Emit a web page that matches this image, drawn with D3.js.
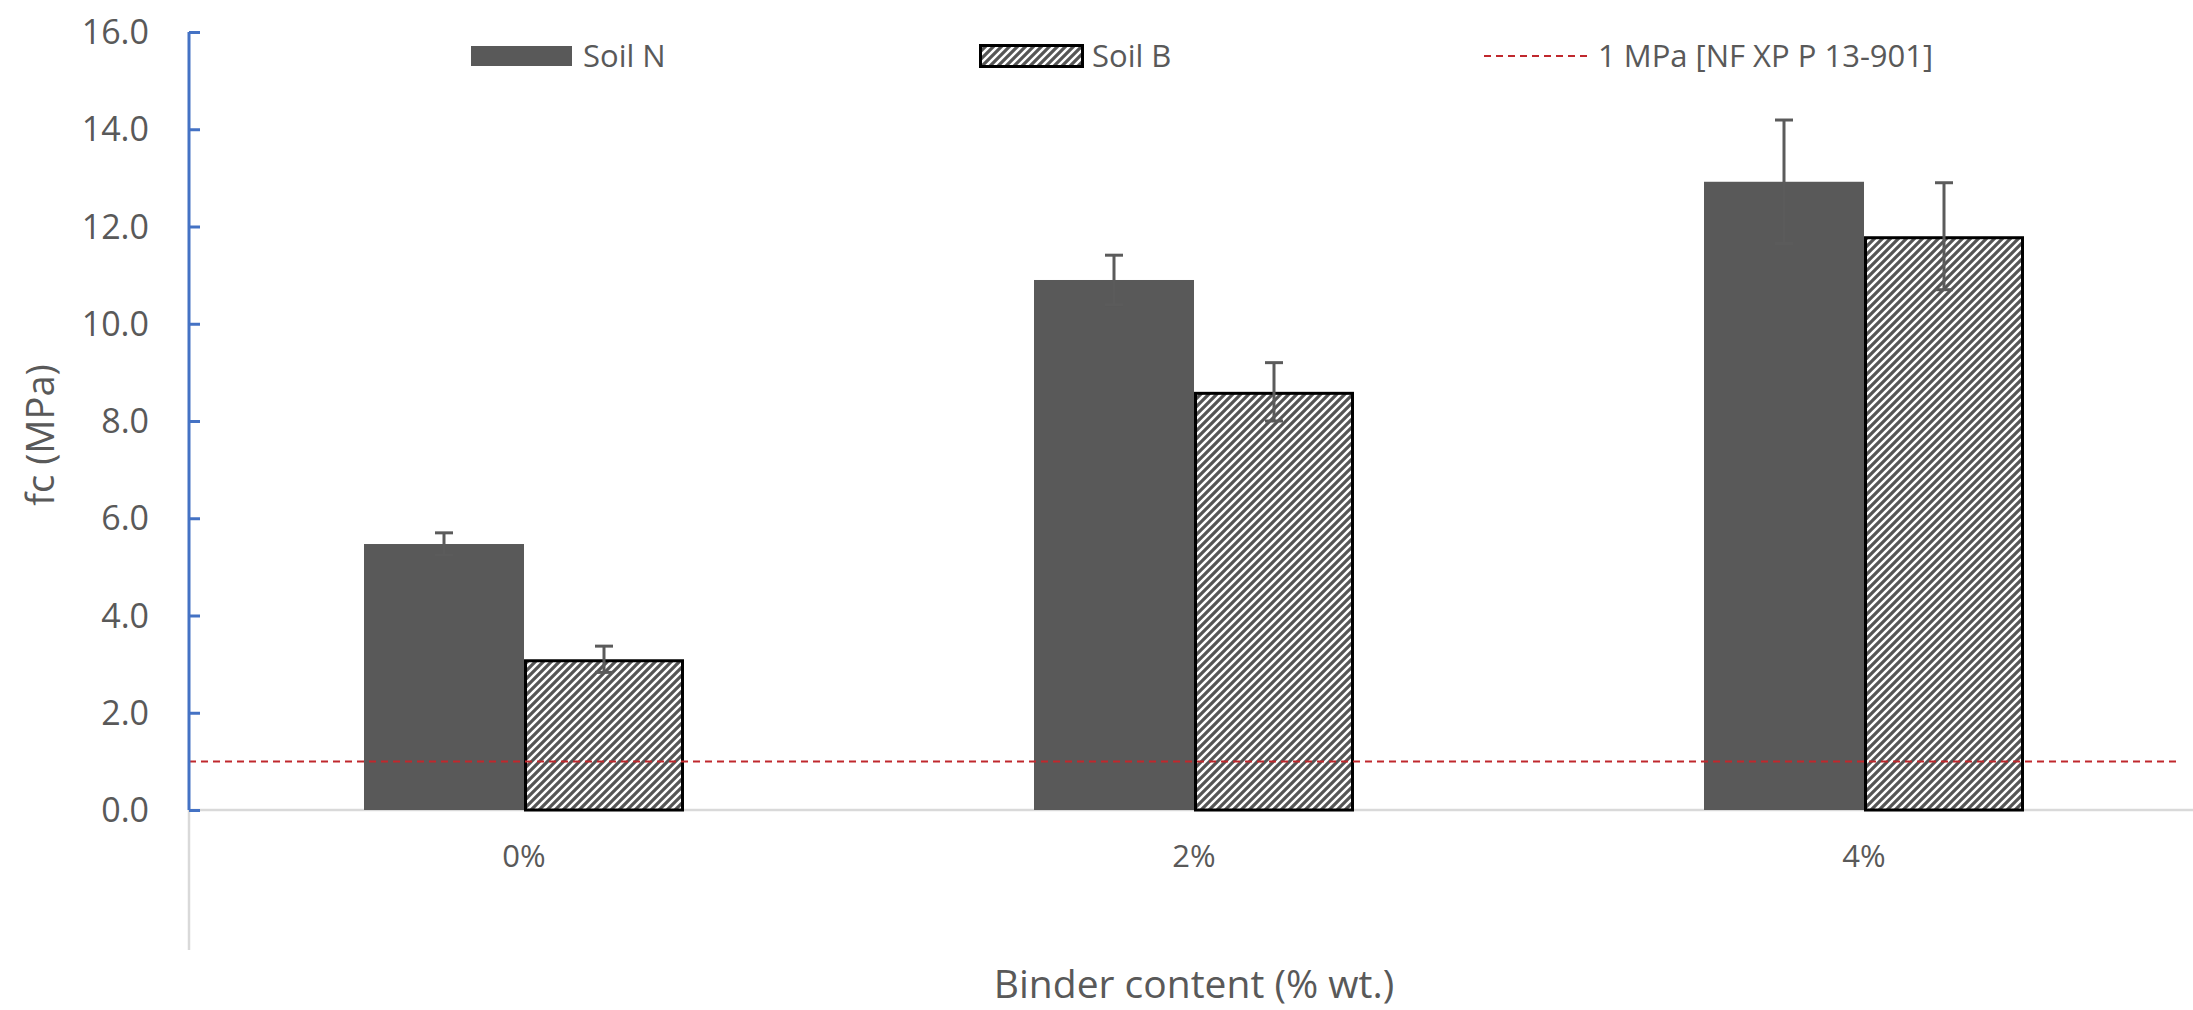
<!DOCTYPE html>
<html>
<head>
<meta charset="utf-8">
<script src="https://cdn.jsdelivr.net/npm/d3@7"></script>
<style>
  html, body { margin: 0; padding: 0; background: #fff; }
  svg { display: block; }
  text { font-family: "Open Sans", "Noto Sans", sans-serif; fill: #595959; }
</style>
</head>
<body>
<svg id="chart" width="2193" height="1010"></svg>
<script>
// ---- data ----
const categories = ["0%", "2%", "4%"];
const seriesNames = ["Soil N", "Soil B"];
const soilN = [5.47, 10.9, 12.92];
const soilNErr = [0.23, 0.51, 1.27];
const soilB = [3.1, 8.6, 11.8];
const soilBErr = [0.27, 0.6, 1.1];
const yTicks = [0, 2, 4, 6, 8, 10, 12, 14, 16];
const thresholdValue = 1;
const thresholdLabel = "1 MPa [NF XP P 13-901]";
const xTitle = "Binder content (% wt.)";
const yTitle = "fc (MPa)";

(function () {
const svg = d3.select("#chart");
const W = 2193, H = 1010;
const mLeft = 189, mRight = 2199, mTop = 32, mBottom = 810;
const barW = 160;
const errColor = "#5b5b5b";

const defs = svg.append("defs");
const pat = defs.append("pattern")
  .attr("id", "hatch").attr("patternUnits", "userSpaceOnUse")
  .attr("width", 8).attr("height", 8);
pat.append("rect").attr("width", 8).attr("height", 8).attr("fill", "#fff");
pat.append("path").attr("d", "M-2,2 L2,-2 M0,8 L8,0 M6,10 L10,6")
  .attr("stroke", "#555").attr("stroke-width", 3.2);

const y = d3.scaleLinear().domain([0, 16]).range([mBottom, mTop]);
const x0 = d3.scaleBand().domain(categories).range([mLeft, mRight]).padding(0);
const bw = x0.bandwidth();
const x1 = d3.scaleBand().domain(seriesNames)
  .range([bw / 2 - barW, bw / 2 + barW]).padding(0);

const data = categories.map((c, i) => ({
  cat: c,
  vals: [
    { s: "Soil N", v: soilN[i], e: soilNErr[i] },
    { s: "Soil B", v: soilB[i], e: soilBErr[i] }
  ]
}));

// x axis line (gray) and left extension below zero
svg.append("line").attr("x1", mLeft).attr("x2", W).attr("y1", y(0)).attr("y2", y(0))
  .attr("stroke", "#d9d9d9").attr("stroke-width", 2.5);
svg.append("line").attr("x1", mLeft).attr("x2", mLeft).attr("y1", y(0)).attr("y2", 950)
  .attr("stroke", "#d9d9d9").attr("stroke-width", 2.5);

// bars
const groups = svg.append("g").selectAll("g").data(data).join("g")
  .attr("transform", d => `translate(${x0(d.cat)},0)`);

groups.selectAll("rect").data(d => d.vals).join("rect")
  .attr("x", d => x1(d.s) + (d.s === "Soil B" ? 1.5 : 0))
  .attr("y", d => y(d.v) + (d.s === "Soil B" ? 1.5 : 0))
  .attr("width", d => x1.bandwidth() - (d.s === "Soil B" ? 3 : 0))
  .attr("height", d => y(0) - y(d.v) - (d.s === "Soil B" ? 1.5 : 0))
  .attr("fill", d => d.s === "Soil N" ? "#595959" : "url(#hatch)")
  .attr("stroke", d => d.s === "Soil N" ? "none" : "#000")
  .attr("stroke-width", 3);

// threshold line
svg.append("line").attr("x1", mLeft).attr("x2", 2180)
  .attr("y1", y(thresholdValue)).attr("y2", y(thresholdValue))
  .attr("stroke", "#c0282d").attr("stroke-width", 2).attr("stroke-dasharray", "7,5");

// error bars
const eb = groups.selectAll("g.err").data(d => d.vals).join("g").attr("class", "err");
const cx = d => x1(d.s) + x1.bandwidth() / 2;
eb.append("line")
  .attr("x1", cx).attr("x2", cx)
  .attr("y1", d => y(d.v + d.e)).attr("y2", d => y(d.v - d.e))
  .attr("stroke", errColor).attr("stroke-width", 3);
eb.append("line")
  .attr("x1", d => cx(d) - 9).attr("x2", d => cx(d) + 9)
  .attr("y1", d => y(d.v + d.e)).attr("y2", d => y(d.v + d.e))
  .attr("stroke", errColor).attr("stroke-width", 3);
eb.append("line")
  .attr("x1", d => cx(d) - 9).attr("x2", d => cx(d) + 9)
  .attr("y1", d => y(d.v - d.e)).attr("y2", d => y(d.v - d.e))
  .attr("stroke", errColor).attr("stroke-width", 3);

// y axis
const yAxis = d3.axisRight(y).tickValues(yTicks).tickSize(11).tickFormat("");
const gy = svg.append("g").attr("transform", `translate(${mLeft},0)`).call(yAxis);
gy.select(".domain").attr("stroke", "#4472C4").attr("stroke-width", 3)
  .attr("d", `M0,${mTop}V${mBottom}`);
gy.selectAll(".tick line").attr("stroke", "#4472C4").attr("stroke-width", 3);

svg.append("g").selectAll("text").data(yTicks).join("text")
  .attr("x", 149).attr("y", d => y(d)).attr("dy", "0.36em")
  .attr("text-anchor", "end").style("font-size", "34px")
  .text(d3.format(".1f"));

// x tick labels
svg.append("g").selectAll("text").data(categories).join("text")
  .attr("x", d => x0(d) + bw / 2).attr("y", 867)
  .attr("text-anchor", "middle").style("font-size", "31px")
  .text(d => d);

// titles
svg.append("text").attr("x", 1194).attr("y", 998).attr("text-anchor", "middle")
  .style("font-size", "39px").text(xTitle);
svg.append("text").attr("transform", "translate(54,435) rotate(-90)")
  .attr("text-anchor", "middle").style("font-size", "38px").text(yTitle);

// legend
const lg = svg.append("g");
const lgY = 56;
lg.append("rect").attr("x", 471).attr("y", lgY - 10).attr("width", 101).attr("height", 20).attr("fill", "#595959");
lg.append("text").attr("x", 583).attr("y", lgY).attr("dy", "0.35em").style("font-size", "31px").text(seriesNames[0]);
lg.append("rect").attr("x", 980.5).attr("y", lgY - 10.5).attr("width", 102).attr("height", 21)
  .attr("fill", "url(#hatch)").attr("stroke", "#000").attr("stroke-width", 3);
lg.append("text").attr("x", 1092).attr("y", lgY).attr("dy", "0.35em").style("font-size", "31px").text(seriesNames[1]);
lg.append("line").attr("x1", 1484).attr("x2", 1588).attr("y1", lgY).attr("y2", lgY)
  .attr("stroke", "#c0282d").attr("stroke-width", 2).attr("stroke-dasharray", "7,5");
lg.append("text").attr("x", 1598).attr("y", lgY).attr("dy", "0.35em").style("font-size", "31px").text(thresholdLabel);
})();
</script>
</body>
</html>
